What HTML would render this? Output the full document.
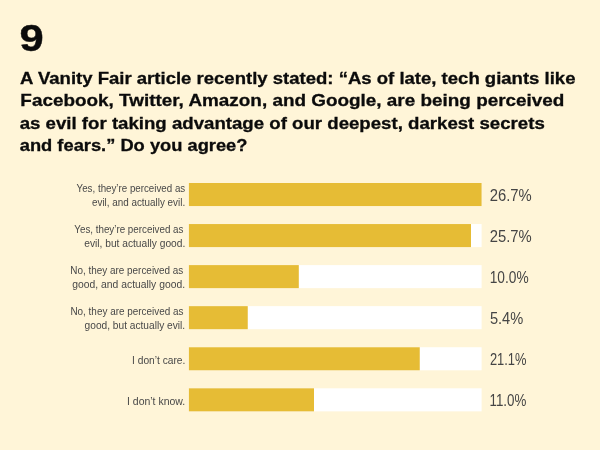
<!DOCTYPE html>
<html lang="en">
<head>
<meta charset="utf-8">
<title>Survey question 9</title>
<style>
  html, body { margin: 0; padding: 0; }
  body {
    width: 600px; height: 450px; overflow: hidden; position: relative;
    background: #fff5d8;
    font-family: "Liberation Sans", sans-serif;
  }
  .t { position: absolute; left: 0; top: 0; white-space: nowrap; transform-origin: 0 0; margin: 0; }
  .num { font-weight: bold; color: #0b0b0b; -webkit-text-stroke: 0.4px #0b0b0b; }
  .hd  { font-weight: bold; color: #0b0b0b; -webkit-text-stroke: 0.3px #0b0b0b; }
  .lb  { color: #484848; }
  .pc  { color: #454545; }
  svg { position: absolute; left: 0; top: 0; }
  .track { fill: #ffffff; }
  .fill  { fill: #e6bc35; }
</style>
</head>
<body>

  <div id="n" class="t num" style="font-size:36px;line-height:46.8px;transform:translate(19.38px,16.43px) scaleX(1.2086)">9</div>
  <h1 style="margin:0;font-size:inherit;font-weight:inherit">
    <span id="h1" class="t hd" style="font-size:17px;line-height:22.1px;transform:translate(20.11px,67.81px) scaleX(1.0899)">A Vanity Fair article recently stated: “As of late, tech giants like</span>
    <span id="h2" class="t hd" style="font-size:17px;line-height:22.1px;transform:translate(20.35px,90.31px) scaleX(1.1118)">Facebook, Twitter, Amazon, and Google, are being perceived</span>
    <span id="h3" class="t hd" style="font-size:17px;line-height:22.1px;transform:translate(19.69px,112.86px) scaleX(1.0962)">as evil for taking advantage of our deepest, darkest secrets</span>
    <span id="h4" class="t hd" style="font-size:17px;line-height:22.1px;transform:translate(19.77px,135.41px) scaleX(1.0760)">and fears.” Do you agree?</span>
  </h1>
  <svg width="600" height="450" viewBox="0 0 600 450" aria-hidden="true">
    <rect class="track" x="188.9" y="183.0" width="292.70" height="23.05"/>
    <rect class="fill" x="188.9" y="183.0" width="292.70" height="23.05"/>
    <rect class="track" x="188.9" y="224.05" width="292.70" height="23.05"/>
    <rect class="fill" x="188.9" y="224.05" width="282.10" height="23.05"/>
    <rect class="track" x="188.9" y="265.1" width="292.70" height="23.05"/>
    <rect class="fill" x="188.9" y="265.1" width="109.90" height="23.05"/>
    <rect class="track" x="188.9" y="306.15" width="292.70" height="23.05"/>
    <rect class="fill" x="188.9" y="306.15" width="58.85" height="23.05"/>
    <rect class="track" x="188.9" y="347.25" width="292.70" height="23.05"/>
    <rect class="fill" x="188.9" y="347.25" width="230.85" height="23.05"/>
    <rect class="track" x="188.9" y="388.3" width="292.70" height="23.05"/>
    <rect class="fill" x="188.9" y="388.3" width="125.10" height="23.05"/>
  </svg>
  <section>
    <div id="l0" class="t lb" style="font-size:10.2px;line-height:13.26px;transform:translate(76.59px,182.04px) scaleX(0.9573)">Yes, they’re perceived as</div>
    <div id="l1" class="t lb" style="font-size:10.2px;line-height:13.26px;transform:translate(91.96px,196.04px) scaleX(0.9682)">evil, and actually evil.</div>
    <div id="p0" class="t pc" style="font-size:16px;line-height:20.8px;transform:translate(489.73px,186.21px) scaleX(0.9262)">26.7%</div>
  </section>
  <section>
    <div id="l2" class="t lb" style="font-size:10.2px;line-height:13.26px;transform:translate(74.29px,223.19px) scaleX(0.9621)">Yes, they’re perceived as</div>
    <div id="l3" class="t lb" style="font-size:10.2px;line-height:13.26px;transform:translate(84.20px,237.19px) scaleX(1.0025)">evil, but actually good.</div>
    <div id="p1" class="t pc" style="font-size:16px;line-height:20.8px;transform:translate(489.73px,227.21px) scaleX(0.9262)">25.7%</div>
  </section>
  <section>
    <div id="l4" class="t lb" style="font-size:10.2px;line-height:13.26px;transform:translate(70.27px,264.14px) scaleX(0.9739)">No, they are perceived as</div>
    <div id="l5" class="t lb" style="font-size:10.2px;line-height:13.26px;transform:translate(72.29px,278.24px) scaleX(1.0159)">good, and actually good.</div>
    <div id="p2" class="t pc" style="font-size:16px;line-height:20.8px;transform:translate(489.72px,268.21px) scaleX(0.8572)">10.0%</div>
  </section>
  <section>
    <div id="l6" class="t lb" style="font-size:10.2px;line-height:13.26px;transform:translate(70.42px,305.09px) scaleX(0.9739)">No, they are perceived as</div>
    <div id="l7" class="t lb" style="font-size:10.2px;line-height:13.26px;transform:translate(84.58px,319.24px) scaleX(0.9975)">good, but actually evil.</div>
    <div id="p3" class="t pc" style="font-size:16px;line-height:20.8px;transform:translate(489.89px,309.01px) scaleX(0.9149)">5.4%</div>
  </section>
  <section>
    <div id="l8" class="t lb" style="font-size:10.2px;line-height:13.26px;transform:translate(132.05px,354.09px) scaleX(1.0000)">I don’t care.</div>
    <div id="p4" class="t pc" style="font-size:16px;line-height:20.8px;transform:translate(489.89px,350.01px) scaleX(0.8068)">21.1%</div>
  </section>
  <section>
    <div id="l9" class="t lb" style="font-size:10.2px;line-height:13.26px;transform:translate(127.02px,395.19px) scaleX(1.0274)">I don’t know.</div>
    <div id="p5" class="t pc" style="font-size:16px;line-height:20.8px;transform:translate(489.46px,391.01px) scaleX(0.8353)">11.0%</div>
  </section>
</body>
</html>
